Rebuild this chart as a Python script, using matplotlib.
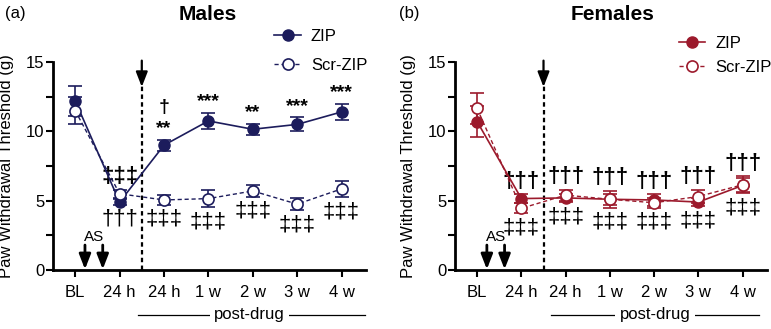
import matplotlib
matplotlib.use("Agg")
import matplotlib.pyplot as plt
from matplotlib.lines import Line2D

plt.rcParams["font.family"] = ["Liberation Sans", "DejaVu Sans"]

categories = ["BL", "24 h", "24 h", "1 w", "2 w", "3 w", "4 w"]

# males
m_zip = [12.2, 4.9, 9.0, 10.75, 10.15, 10.5, 11.4]
m_zip_err = [1.1, 0.2, 0.4, 0.6, 0.4, 0.5, 0.6]
m_scr = [11.5, 5.5, 5.05, 5.15, 5.7, 4.75, 5.85]
m_scr_err = [1.0, 0.3, 0.35, 0.6, 0.4, 0.45, 0.6]
m_above = ["", "‡‡‡", "†\n**", "***", "**", "***", "***"]
m_below = ["", "†††", "‡‡‡", "‡‡‡", "‡‡‡", "‡‡‡", "‡‡‡"]

# females
f_zip = [10.7, 5.15, 5.2, 5.1, 5.05, 4.9, 6.1]
f_zip_err = [1.1, 0.3, 0.3, 0.4, 0.4, 0.3, 0.5]
f_scr = [11.65, 4.45, 5.4, 5.1, 4.85, 5.3, 6.15]
f_scr_err = [1.1, 0.35, 0.4, 0.6, 0.35, 0.45, 0.6]
f_above = ["", "†††", "†††", "†††", "†††", "†††", "†††"]
f_below = ["", "‡‡‡", "‡‡‡", "‡‡‡", "‡‡‡", "‡‡‡", "‡‡‡"]

NAVY = "#1c1c5c"
RED = "#9c1a2c"

fig = plt.figure(figsize=(7.71, 3.29), dpi=100)
ax1 = fig.add_axes([53 / 771, 59 / 329, 313 / 771, 208 / 329])
ax2 = fig.add_axes([455 / 771, 59 / 329, 312 / 771, 208 / 329])


def mark_size(s):
    # daggers are drawn larger than the asterisks
    return 14 if "*" in s else 16


def panel(ax, zip_v, zip_e, scr_v, scr_e, above, below, color, leg_anchor, leg_space):
    x = list(range(len(categories)))
    ax.errorbar(x, zip_v, yerr=zip_e, color=color, marker="o", ms=8, mfc=color, mec=color,
                lw=1.2, elinewidth=1.2, capsize=5, capthick=1.2, clip_on=False, zorder=3)
    ax.errorbar(x, scr_v, yerr=scr_e, color=color, marker="o", ms=8, mfc="white", mec=color,
                mew=1.2, lw=1.0, ls=(0, (3, 2)), elinewidth=1.2, capsize=5, capthick=1.2,
                clip_on=False, zorder=4)

    # significance marks
    for i in range(len(categories)):
        top = max(zip_v[i] + zip_e[i], scr_v[i] + scr_e[i])
        bot = min(zip_v[i] - zip_e[i], scr_v[i] - scr_e[i])
        if above[i]:
            ax.annotate(above[i], (i, top), xytext=(0, 2), textcoords="offset points",
                        ha="center", va="bottom", fontsize=mark_size(above[i]),
                        fontweight="bold", linespacing=1.3)
        if below[i]:
            ax.annotate(below[i], (i, bot), xytext=(0, -3), textcoords="offset points",
                        ha="center", va="top", fontsize=mark_size(below[i]))

    # drug injection: dashed line with arrow
    ax.plot([1.5, 1.5], [0, 13.3], color="black", lw=1.6, ls=(0, (2, 1.5)), zorder=1)
    ax.annotate("", xy=(1.5, 13.2), xytext=(1.5, 15.1),
                arrowprops=dict(arrowstyle="-|>,head_width=0.35,head_length=0.9",
                                color="black", lw=1.6, shrinkA=0, shrinkB=0))
    # AS arrows
    for xa in (0.22, 0.62):
        ax.annotate("", xy=(xa, 0.05), xytext=(xa, 1.8),
                    arrowprops=dict(arrowstyle="-|>,head_width=0.35,head_length=0.9",
                                    color="black", lw=2, shrinkA=0, shrinkB=0))
    ax.text(0.42, 1.9, "AS", ha="center", va="bottom", fontsize=11)

    ax.set_xlim(-0.5, 6.55)
    ax.set_ylim(0, 15)
    ax.set_xticks(x)
    ax.set_xticklabels(categories, fontsize=12)
    ax.set_yticks([0, 5, 10, 15])
    ax.set_yticks([2.5, 7.5, 12.5], minor=True)
    ax.tick_params(axis="y", labelsize=12, width=1.5, length=5, pad=1)
    ax.tick_params(axis="y", which="minor", width=1.5, length=5)
    ax.tick_params(axis="x", width=1.5, length=5, pad=6)
    ax.spines["top"].set_visible(False)
    ax.spines["right"].set_visible(False)
    ax.spines["left"].set_linewidth(2)
    ax.spines["bottom"].set_linewidth(2)
    ax.set_ylabel("Paw Withdrawal Threshold (g)", fontsize=12)
    ax.yaxis.set_label_coords(-0.125, 0.5)
    ax.patch.set_alpha(0)

    handles = [
        Line2D([], [], color=color, marker="o", ms=8, mfc=color, mec=color, lw=1.2),
        Line2D([], [], color=color, marker="o", ms=8, mfc="white", mec=color, mew=1.2,
               lw=1.0, ls=(0, (3, 2))),
    ]
    ax.legend(handles, ["ZIP", "Scr-ZIP"], loc="upper left", bbox_to_anchor=leg_anchor,
              frameon=False, fontsize=12, handlelength=1.6, handletextpad=0.6,
              labelspacing=leg_space, borderpad=0)


panel(ax1, m_zip, m_zip_err, m_scr, m_scr_err, m_above, m_below, NAVY, (0.68, 1.2), 0.85)
panel(ax2, f_zip, f_zip_err, f_scr, f_scr_err, f_above, f_below, RED, (0.69, 1.165), 0.55)

# post-drug brackets
for ax, x0, x1, xc in ((ax1, 0.272, 0.997, 0.627), (ax2, 0.308, 0.974, 0.641)):
    ax.plot([x0, x1], [-0.215, -0.215], transform=ax.transAxes, color="black", lw=0.9,
            clip_on=False)
    ax.text(xc, -0.215, "post-drug", transform=ax.transAxes, ha="center", va="center",
            fontsize=12, bbox=dict(facecolor="white", edgecolor="none", pad=3))

fig.text(0.27, 0.955, "Males", ha="center", va="center", fontsize=15, fontweight="bold")
fig.text(0.794, 0.955, "Females", ha="center", va="center", fontsize=15, fontweight="bold")
fig.text(0.006, 0.96, "(a)", ha="left", va="center", fontsize=12)
fig.text(0.518, 0.96, "(b)", ha="left", va="center", fontsize=12)

fig.savefig("out.png", dpi=100)
